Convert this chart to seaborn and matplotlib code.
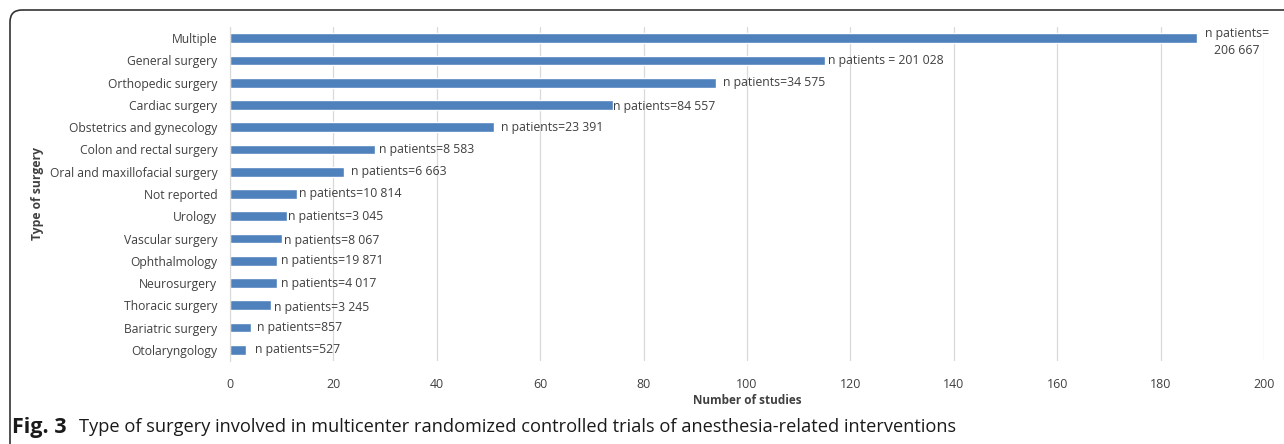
import numpy as np
import pandas as pd
import matplotlib
matplotlib.use("Agg")
import matplotlib.pyplot as plt
from matplotlib.patches import FancyBboxPatch
import seaborn as sns

surgery_types = ["Multiple", "General surgery", "Orthopedic surgery", "Cardiac surgery",
                 "Obstetrics and gynecology", "Colon and rectal surgery",
                 "Oral and maxillofacial surgery", "Not reported", "Urology",
                 "Vascular surgery", "Ophthalmology", "Neurosurgery", "Thoracic surgery",
                 "Bariatric surgery", "Otolaryngology"]
n_studies = [187, 115, 94, 74, 51, 28, 22, 13, 11, 10, 9, 9, 8, 4, 3]
patient_labels = ["n patients=\n206 667", "n patients = 201 028", "n patients=34 575",
                  "n patients=84 557", "n patients=23 391", "n patients=8 583",
                  "n patients=6 663", "n patients=10 814", "n patients=3 045",
                  "n patients=8 067", "n patients=19 871", "n patients=4 017",
                  "n patients=3 245", "n patients=857", "n patients=527"]
x_ticks = [0, 20, 40, 60, 80, 100, 120, 140, 160, 180, 200]

# label offsets (pixels) as placed by hand in the original
label_dx = [40, 3, 7, 0, 7, 4, 7, 2, 1, 2, 4, 4, 3, 6, 9]
label_dy = [-4, 0, 0, -2, 0, 0, 0, 0, 0, -2, 0, 0, -2, 0, 0]

df = pd.DataFrame({"type": surgery_types, "studies": n_studies})

sns.set_style("white")
plt.rcParams["font.family"] = ["Open Sans", "DejaVu Sans"]
text_col = "#404040"

W, H = 1284, 444
fig = plt.figure(figsize=(W / 100, H / 100), dpi=100)
ax = fig.add_axes([230 / W, (H - 361) / H, (1264 - 230) / W, (361 - 27) / H])

sns.barplot(data=df, y="type", x="studies", color="#4F81BD", saturation=1,
            width=0.44, ax=ax)

for i, (v, lab) in enumerate(zip(n_studies, patient_labels)):
    ax.annotate(lab, xy=(v, i), xytext=(label_dx[i], label_dy[i]),
                textcoords="offset pixels", ha="center" if i == 0 else "left",
                va="center", multialignment="center", fontsize=8.8,
                linespacing=1.35, color=text_col, annotation_clip=False)

ax.set_xlim(0, 200)
ax.set_ylim(14.5, -0.5)
ax.set_xticks(x_ticks)
ax.xaxis.grid(True, color="#d9d9d9", linewidth=0.9)
ax.set_axisbelow(True)
for s in ["top", "right", "bottom"]:
    ax.spines[s].set_visible(False)
ax.spines["left"].set_color("#d9d9d9")
ax.tick_params(axis="y", length=0, pad=9, labelsize=8.7, labelcolor=text_col)
ax.tick_params(axis="x", length=0, pad=12, labelsize=8.9, labelcolor=text_col)
ax.set_xlabel("")
ax.set_ylabel("")

fig.text(37 / W, (H - 193) / H, "Type of surgery", rotation=90, ha="center", va="center",
         fontsize=8.7, fontweight="bold", color=text_col)
fig.text(747 / W, (H - 400) / H, "Number of studies", ha="center", va="center",
         fontsize=8.5, fontweight="bold", color=text_col)

fig.text(12 / W, (H - 427) / H, "Fig. 3", ha="left", va="center",
         fontsize=15.5, fontweight="bold", color="#1a1a1a")
fig.text(79 / W, (H - 427) / H,
         "Type of surgery involved in multicenter randomized controlled trials of anesthesia-related interventions",
         ha="left", va="center", fontsize=13.15, color="#1a1a1a")

frame = FancyBboxPatch((0.10, -0.3), 13.0, 4.64, boxstyle="round,pad=0,rounding_size=0.12",
                       transform=fig.dpi_scale_trans, fill=False, edgecolor="#333333",
                       linewidth=1.2, clip_on=False)
fig.patches.append(frame)

fig.savefig("out.png", dpi=100)
